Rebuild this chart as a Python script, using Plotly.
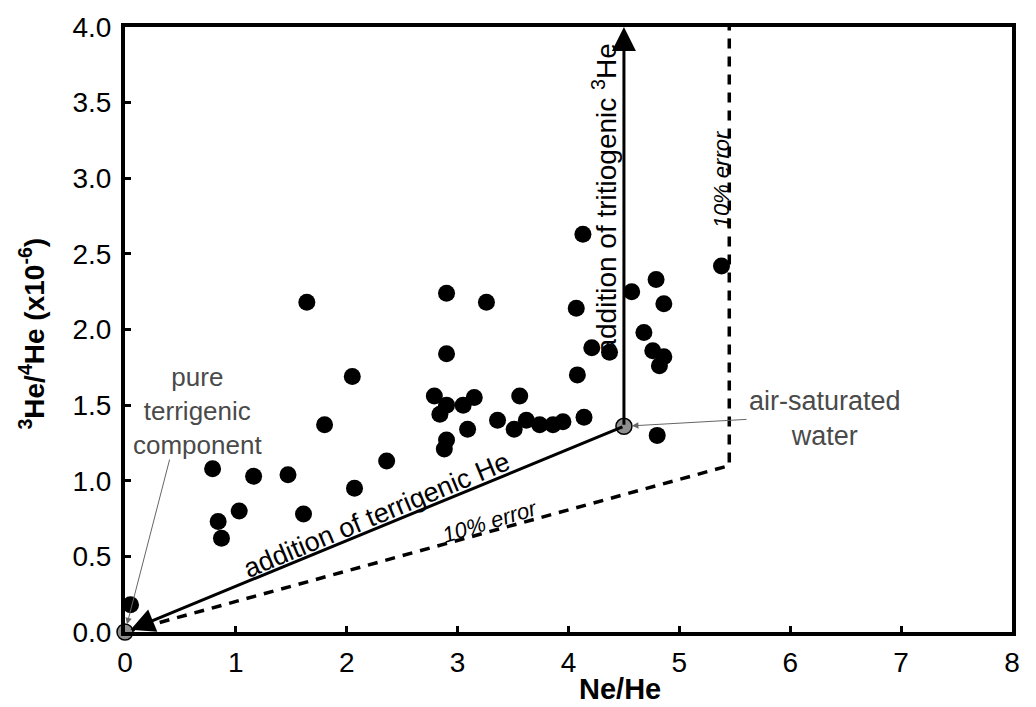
import plotly.graph_objects as go

# ---- data ----
ne_he = [0.05, 0.79, 1.16, 1.47, 0.84, 1.03, 0.87, 1.61, 2.07, 2.36, 1.80, 2.05, 1.64,
         2.90, 3.26, 2.90, 2.79, 2.90, 2.84, 3.05, 3.15, 3.09, 2.90, 2.88, 3.56, 3.36,
         3.51, 3.62, 3.74, 3.86, 3.95, 4.08, 4.14, 4.13, 4.07, 4.21, 4.37, 4.57, 4.79,
         4.86, 4.68, 4.76, 4.86, 4.82, 4.80, 5.38]
he_ratio = [0.18, 1.08, 1.03, 1.04, 0.73, 0.80, 0.62, 0.78, 0.95, 1.13, 1.37, 1.69, 2.18,
            2.24, 2.18, 1.84, 1.56, 1.50, 1.44, 1.50, 1.55, 1.34, 1.27, 1.21, 1.56, 1.40,
            1.34, 1.40, 1.37, 1.37, 1.39, 1.70, 1.42, 2.63, 2.14, 1.88, 1.85, 2.25, 2.33,
            2.17, 1.98, 1.86, 1.82, 1.76, 1.30, 2.42]

asw_ne_he = [4.5]      # air-saturated water
asw_ratio = [1.36]
terr_ne_he = [0.0]     # pure terrigenic component
terr_ratio = [0.0]
trit_top = [4.0]       # top of tritiogenic arrow

err_ne_he = [0.0, 5.45, 5.45]   # 10% error envelope
err_ratio = [0.0, 1.10, 4.0]

x_ticks = [0, 1, 2, 3, 4, 5, 6, 7, 8]
y_ticks = [0.0, 0.5, 1.0, 1.5, 2.0, 2.5, 3.0, 3.5, 4.0]

FONT = "Liberation Sans, Arial, sans-serif"
GRAY_TXT = "#4a4a4a"

fig = go.Figure()

# 10% error dashed envelope
fig.add_trace(go.Scatter(x=err_ne_he, y=err_ratio, mode="lines",
                         line=dict(color="black", width=3.5, dash="10px,8px"),
                         hoverinfo="skip", showlegend=False, cliponaxis=False))

# samples
fig.add_trace(go.Scatter(x=ne_he, y=he_ratio, mode="markers",
                         marker=dict(symbol="circle", size=17, color="black"),
                         showlegend=False, cliponaxis=False))

# end-members
fig.add_trace(go.Scatter(x=terr_ne_he + asw_ne_he, y=terr_ratio + asw_ratio, mode="markers",
                         marker=dict(symbol="circle", size=16, color="#8f8f8f",
                                     line=dict(color="black", width=1.5)),
                         showlegend=False, cliponaxis=False))

annotations = []

# arrow: addition of terrigenic He (ASW -> origin)
annotations.append(dict(x=terr_ne_he[0], y=terr_ratio[0], xref="x", yref="y",
                        ax=asw_ne_he[0], ay=asw_ratio[0], axref="x", ayref="y",
                        showarrow=True, arrowhead=2, arrowsize=1.6, arrowwidth=3,
                        arrowcolor="black", standoff=6, text=""))
# arrow: addition of tritiogenic 3He (ASW -> top)
annotations.append(dict(x=asw_ne_he[0], y=trit_top[0], xref="x", yref="y",
                        ax=asw_ne_he[0], ay=asw_ratio[0], axref="x", ayref="y",
                        showarrow=True, arrowhead=2, arrowsize=1.6, arrowwidth=3,
                        arrowcolor="black", standoff=0, text=""))

# rotated labels
annotations.append(dict(x=2.27, y=0.775, xref="x", yref="y", text="addition of terrigenic He",
                        showarrow=False, textangle=-22.6, xanchor="center", yanchor="middle",
                        font=dict(family=FONT, size=27, color="black")))
annotations.append(dict(x=4.33, y=2.86, xref="x", yref="y",
                        text="addition of tritiogenic <sup>3</sup>He",
                        showarrow=False, textangle=-90, xanchor="center", yanchor="middle",
                        font=dict(family=FONT, size=28, color="black")))
annotations.append(dict(x=3.29, y=0.73, xref="x", yref="y", text="<i>10% error</i>",
                        showarrow=False, textangle=-17, xanchor="center", yanchor="middle",
                        font=dict(family=FONT, size=22, color="black")))
annotations.append(dict(x=5.38, y=2.99, xref="x", yref="y", text="<i>10% error</i>",
                        showarrow=False, textangle=-90, xanchor="center", yanchor="middle",
                        font=dict(family=FONT, size=22, color="black")))

# end-member labels
annotations.append(dict(x=0.65, y=1.46, xref="x", yref="y",
                        text="pure<br>terrigenic<br>component",
                        showarrow=False, xanchor="center", yanchor="middle", align="center",
                        font=dict(family=FONT, size=26, color=GRAY_TXT)))
annotations.append(dict(x=terr_ne_he[0], y=terr_ratio[0], xref="x", yref="y",
                        ax=45, ay=-174, showarrow=True, arrowhead=2, arrowsize=1.3,
                        arrowwidth=1, arrowcolor="#666666", standoff=8, text=""))
annotations.append(dict(x=6.31, y=1.41, xref="x", yref="y",
                        text="air-saturated<br>water",
                        showarrow=False, xanchor="center", yanchor="middle", align="center",
                        font=dict(family=FONT, size=27, color=GRAY_TXT)))
annotations.append(dict(x=asw_ne_he[0], y=asw_ratio[0], xref="x", yref="y",
                        ax=124, ay=-7, showarrow=True, arrowhead=2, arrowsize=1.3,
                        arrowwidth=1, arrowcolor="#666666", standoff=8, text=""))

# axis titles
annotations.append(dict(x=0.558, y=-0.095, xref="paper", yref="paper", text="<b>Ne/He</b>",
                        showarrow=False, xanchor="center", yanchor="middle",
                        font=dict(family=FONT, size=29, color="black")))
annotations.append(dict(x=-0.105, y=0.493, xref="paper", yref="paper",
                        text="<b><sup>3</sup>He/<sup>4</sup>He (x10<sup>-6</sup>)</b>",
                        showarrow=False, textangle=-90, xanchor="center", yanchor="middle",
                        font=dict(family=FONT, size=28, color="black")))

axis_common = dict(showgrid=False, zeroline=False, showline=True, linecolor="black",
                   linewidth=4, mirror=True, ticks="inside", ticklen=6, tickwidth=3,
                   tickcolor="black", tickfont=dict(family=FONT, size=28, color="black"))

fig.update_layout(
    width=1036, height=707,
    margin=dict(l=125, r=24, t=20, b=75),
    paper_bgcolor="white", plot_bgcolor="white",
    xaxis=dict(range=[0, 8], tickvals=x_ticks, ticktext=[str(v) for v in x_ticks],
               ticklabelstandoff=2, **axis_common),
    yaxis=dict(range=[0, 4], tickvals=y_ticks, ticktext=[f"{v:.1f}" for v in y_ticks],
               ticklabelstandoff=4, **axis_common),
    annotations=annotations,
    font=dict(family=FONT),
)

fig.write_html("out.html")
